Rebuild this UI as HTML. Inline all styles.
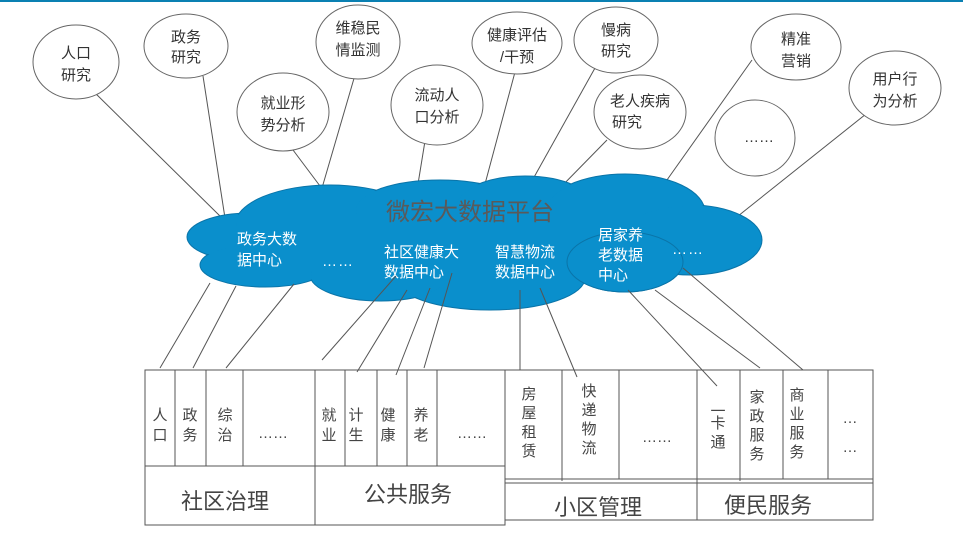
<!DOCTYPE html>
<html><head><meta charset="utf-8"><style>
html,body{margin:0;padding:0;background:#fff;width:963px;height:544px;overflow:hidden}
svg text{font-family:"Liberation Sans","Noto Sans CJK SC",sans-serif}
</style></head><body>
<svg width="963" height="544" viewBox="0 0 963 544" xmlns="http://www.w3.org/2000/svg">
<rect x="0" y="0" width="963" height="2" fill="#0a80b2"/>
<g stroke="#555" stroke-width="1" fill="none">
<line x1="90" y1="88" x2="222" y2="218"/>
<line x1="203" y1="76" x2="225" y2="218"/>
<line x1="290" y1="146" x2="323" y2="190"/>
<line x1="355" y1="75" x2="322" y2="188"/>
<line x1="425" y1="141" x2="418" y2="184"/>
<line x1="515" y1="72" x2="485" y2="184"/>
<line x1="595" y1="68" x2="528" y2="188"/>
<line x1="607" y1="140" x2="558" y2="190"/>
<line x1="752" y1="60" x2="662" y2="187"/>
<line x1="866" y1="114" x2="718" y2="232"/>
</g>
<g fill="#fff" stroke="#666" stroke-width="1">
<ellipse cx="76" cy="62" rx="43" ry="37"/>
<ellipse cx="186" cy="46" rx="42" ry="32"/>
<ellipse cx="358" cy="42" rx="42" ry="37"/>
<ellipse cx="517" cy="43" rx="45" ry="31"/>
<ellipse cx="616" cy="40" rx="42" ry="33"/>
<ellipse cx="796" cy="47" rx="45" ry="33"/>
<ellipse cx="283" cy="112" rx="46" ry="39"/>
<ellipse cx="437" cy="105" rx="46" ry="40"/>
<ellipse cx="640" cy="112" rx="46" ry="37"/>
<ellipse cx="755" cy="138" rx="40" ry="38"/>
<ellipse cx="895" cy="88" rx="46" ry="37"/>
</g>
<g fill="#333" font-size="15" text-anchor="middle">
<text x="76" y="58">人口</text><text x="76" y="80">研究</text>
<text x="186" y="42">政务</text><text x="186" y="62">研究</text>
<text x="358" y="33">维稳民</text><text x="358" y="55">情监测</text>
<text x="517" y="40">健康评估</text><text x="517" y="62">/干预</text>
<text x="616" y="35">慢病</text><text x="616" y="56">研究</text>
<text x="796" y="44">精准</text><text x="796" y="66">营销</text>
<text x="283" y="108">就业形</text><text x="283" y="130">势分析</text>
<text x="437" y="100">流动人</text><text x="437" y="122">口分析</text>
<text x="640" y="106">老人疾病</text><text x="627" y="127">研究</text>
<text x="759" y="142">……</text>
<text x="895" y="84">用户行</text><text x="895" y="106">为分析</text>
</g>
<g fill="#0a8fcc" stroke="#0a74a8" stroke-width="1">
<ellipse cx="250" cy="237" rx="63" ry="24"/>
<ellipse cx="265" cy="265" rx="65" ry="22"/>
<ellipse cx="330" cy="225" rx="95" ry="40"/>
<ellipse cx="440" cy="210" rx="85" ry="30"/>
<ellipse cx="525" cy="208" rx="70" ry="32"/>
<ellipse cx="625" cy="212" rx="80" ry="38"/>
<ellipse cx="690" cy="240" rx="72" ry="35"/>
<ellipse cx="625" cy="262" rx="58" ry="30"/>
<ellipse cx="490" cy="278" rx="95" ry="32"/>
<ellipse cx="380" cy="275" rx="70" ry="26"/>
</g>
<g fill="#0a8fcc">
<ellipse cx="250" cy="237" rx="62" ry="23"/>
<ellipse cx="265" cy="265" rx="64" ry="21"/>
<ellipse cx="330" cy="225" rx="94" ry="39"/>
<ellipse cx="440" cy="210" rx="84" ry="29"/>
<ellipse cx="525" cy="208" rx="69" ry="31"/>
<ellipse cx="625" cy="212" rx="79" ry="37"/>
<ellipse cx="690" cy="240" rx="71" ry="34"/>
<ellipse cx="490" cy="278" rx="94" ry="31"/>
<ellipse cx="380" cy="275" rx="69" ry="25"/>
<rect x="300" y="215" width="380" height="55"/>
</g>
<ellipse cx="625" cy="262" rx="58" ry="30" fill="#0a8fcc" stroke="#0a74a8"/>
<text x="470" y="220" fill="#5a5a5a" font-size="24" text-anchor="middle">微宏大数据平台</text>
<g fill="#fff" font-size="15">
<text x="237" y="244">政务大数</text><text x="237" y="265">据中心</text>
<text x="384" y="257">社区健康大</text><text x="384" y="277">数据中心</text>
<text x="495" y="257">智慧物流</text><text x="495" y="277">数据中心</text>
<text x="598" y="240">居家养</text><text x="598" y="260">老数据</text><text x="598" y="280">中心</text>
<text x="322" y="266" letter-spacing="1">……</text>
<text x="672" y="254" letter-spacing="1">……</text>
</g>
<g stroke="#555" stroke-width="1" fill="none">
<line x1="210" y1="283" x2="160" y2="368"/>
<line x1="236" y1="286" x2="193" y2="368"/>
<line x1="294" y1="284" x2="226" y2="368"/>
<line x1="396" y1="276" x2="322" y2="360"/>
<line x1="407" y1="290" x2="357" y2="372"/>
<line x1="430" y1="288" x2="396" y2="375"/>
<line x1="452" y1="273" x2="424" y2="368"/>
<line x1="520" y1="290" x2="520" y2="370"/>
<line x1="540" y1="288" x2="577" y2="377"/>
<line x1="628" y1="290" x2="717" y2="386"/>
<line x1="655" y1="290" x2="760" y2="368"/>
<line x1="683" y1="268" x2="803" y2="370"/>
</g>
<g fill="none" stroke="#555" stroke-width="1">
<rect x="145" y="370" width="360" height="155"/>
<line x1="145" y1="466" x2="505" y2="466"/>
<line x1="315" y1="370" x2="315" y2="525"/>
<line x1="175" y1="370" x2="175" y2="466"/>
<line x1="206" y1="370" x2="206" y2="466"/>
<line x1="243" y1="370" x2="243" y2="466"/>
<line x1="345" y1="370" x2="345" y2="466"/>
<line x1="377" y1="370" x2="377" y2="466"/>
<line x1="407" y1="370" x2="407" y2="466"/>
<line x1="437" y1="370" x2="437" y2="466"/>
<rect x="505" y="370" width="368" height="150"/>
<line x1="505" y1="479" x2="873" y2="479"/>
<line x1="505" y1="483" x2="873" y2="483"/>
<line x1="697" y1="370" x2="697" y2="520"/>
<line x1="562" y1="370" x2="562" y2="481"/>
<line x1="619" y1="370" x2="619" y2="479"/>
<line x1="740" y1="370" x2="740" y2="481"/>
<line x1="783" y1="370" x2="783" y2="479"/>
<line x1="828" y1="370" x2="828" y2="479"/>
</g>
<g fill="#444" font-size="15" text-anchor="middle">
<text x="160" y="420">人</text><text x="160" y="440">口</text>
<text x="190" y="420">政</text><text x="190" y="440">务</text>
<text x="225" y="420">综</text><text x="225" y="440">治</text>
<text x="273" y="438">……</text>
<text x="329" y="420">就</text><text x="329" y="440">业</text>
<text x="356" y="420">计</text><text x="356" y="440">生</text>
<text x="388" y="420">健</text><text x="388" y="440">康</text>
<text x="421" y="420">养</text><text x="421" y="440">老</text>
<text x="472" y="438">……</text>
<text x="529" y="399">房</text><text x="529" y="418">屋</text><text x="529" y="437">租</text><text x="529" y="456">赁</text>
<text x="589" y="396">快</text><text x="589" y="415">递</text><text x="589" y="434">物</text><text x="589" y="453">流</text>
<text x="657" y="442">……</text>
<text x="718" y="416">一</text><text x="718" y="428">卡</text><text x="718" y="447">通</text>
<text x="757" y="402">家</text><text x="757" y="421">政</text><text x="757" y="440">服</text><text x="757" y="459">务</text>
<text x="797" y="400">商</text><text x="797" y="419">业</text><text x="797" y="438">服</text><text x="797" y="457">务</text>
<text x="850" y="423">…</text><text x="850" y="452">…</text>
</g>
<g fill="#444" font-size="22" text-anchor="middle">
<text x="225" y="509">社区治理</text>
<text x="408" y="502">公共服务</text>
<text x="598" y="515">小区管理</text>
<text x="768" y="513">便民服务</text>
</g>
</svg>
</body></html>
